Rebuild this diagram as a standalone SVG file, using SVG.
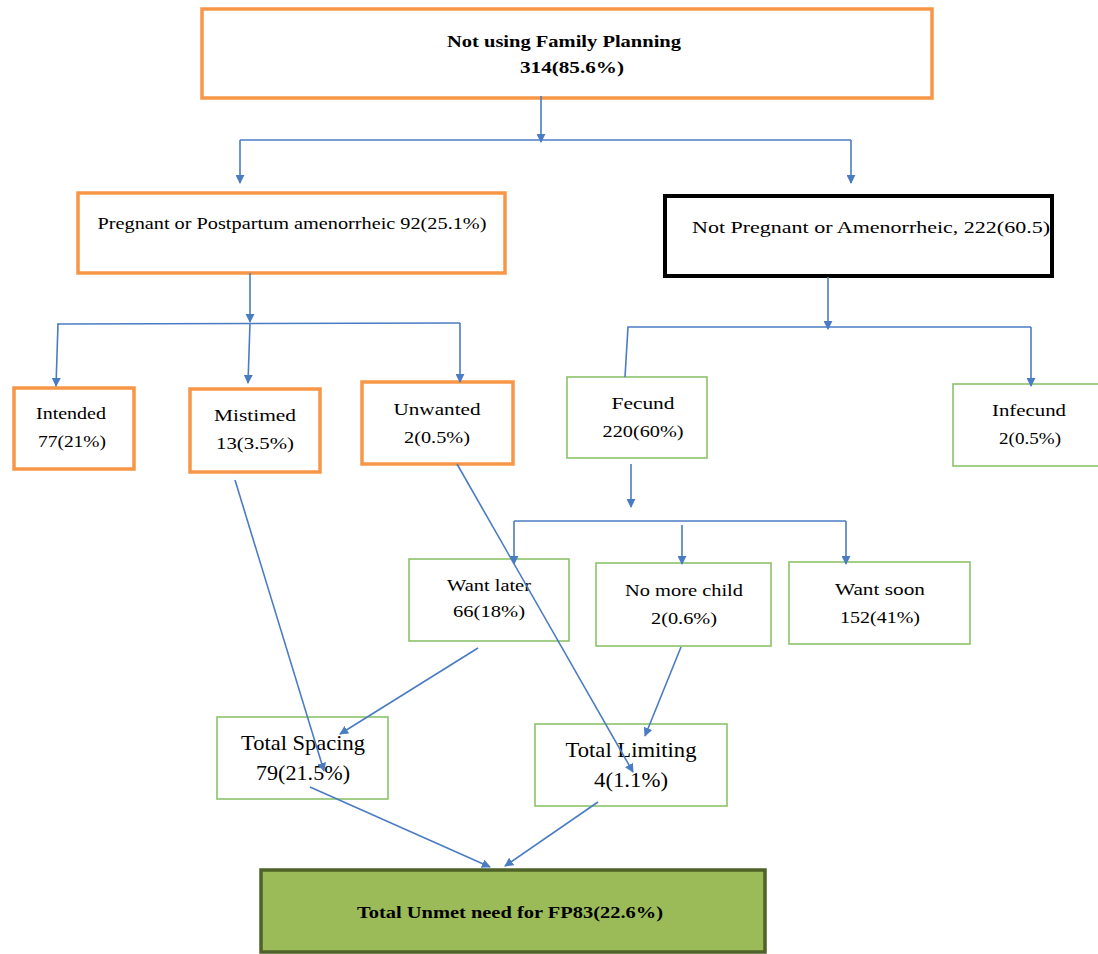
<svg xmlns="http://www.w3.org/2000/svg" width="1098" height="954" viewBox="0 0 1098 954">
<style>
.o{fill:#fff;stroke:#F79646;stroke-width:3.5}
.k{fill:#fff;stroke:#000;stroke-width:4}
.g{fill:#fff;stroke:#8DC26A;stroke-width:1.6}
.u{fill:#9BBB59;stroke:#4F6228;stroke-width:3.5}
.t{font-family:'Liberation Serif','Times New Roman',serif;font-size:17px;fill:#000;text-anchor:middle}
.b{font-weight:bold;font-size:17px}
.l{font-size:21px}
.c line,.c polyline{stroke:#4A7CC4;stroke-width:1.6;fill:none}
</style>
<defs>
<marker id="a" viewBox="0 0 10 10" refX="9" refY="5" markerWidth="9" markerHeight="9" markerUnits="userSpaceOnUse" orient="auto">
<path d="M0,0 L10,5 L0,10 z" fill="#4A7CC4"/>
</marker>
</defs>
<g class="t" font-family="Liberation Serif, Times New Roman, serif">
<g id="top"><rect class="o" x="202" y="9" width="730" height="89"/><text class="b" x="564" y="47" textLength="234" lengthAdjust="spacingAndGlyphs">Not using Family Planning</text><text class="b" x="572" y="73" textLength="104" lengthAdjust="spacingAndGlyphs">314(85.6%)</text></g>
<g id="pregnant"><rect class="o" x="78" y="193" width="427" height="80"/><text x="292" y="229" textLength="389" lengthAdjust="spacingAndGlyphs">Pregnant or Postpartum  amenorrheic 92(25.1%)</text></g>
<g id="notpregnant"><rect class="k" x="665" y="196" width="387" height="80"/><text x="871" y="233" textLength="358" lengthAdjust="spacingAndGlyphs">Not Pregnant or Amenorrheic, 222(60.5)</text></g>
<g id="intended"><rect class="o" x="14" y="388" width="120" height="81"/><text x="71" y="419" textLength="70" lengthAdjust="spacingAndGlyphs">Intended</text><text x="72" y="447" textLength="68" lengthAdjust="spacingAndGlyphs">77(21%)</text></g>
<g id="mistimed"><rect class="o" x="190" y="389" width="130" height="83"/><text x="255" y="421" textLength="82" lengthAdjust="spacingAndGlyphs">Mistimed</text><text x="255" y="449" textLength="78" lengthAdjust="spacingAndGlyphs">13(3.5%)</text></g>
<g id="unwanted"><rect class="o" x="362" y="382" width="151" height="82"/><text x="437" y="415" textLength="87" lengthAdjust="spacingAndGlyphs">Unwanted</text><text x="437" y="443" textLength="66" lengthAdjust="spacingAndGlyphs">2(0.5%)</text></g>
<g id="fecund"><rect class="g" x="567" y="377" width="140" height="81"/><text x="643" y="409" textLength="63" lengthAdjust="spacingAndGlyphs">Fecund</text><text x="643" y="437" textLength="81" lengthAdjust="spacingAndGlyphs">220(60%)</text></g>
<g id="infecund"><rect class="g" x="953" y="384" width="150" height="82"/><text x="1029" y="416" textLength="74" lengthAdjust="spacingAndGlyphs">Infecund</text><text x="1030" y="444" textLength="62" lengthAdjust="spacingAndGlyphs">2(0.5%)</text></g>
<g id="wantlater"><rect class="g" x="409" y="559" width="160" height="82"/><text x="489" y="591" textLength="84" lengthAdjust="spacingAndGlyphs">Want later</text><text x="489" y="617" textLength="72" lengthAdjust="spacingAndGlyphs">66(18%)</text></g>
<g id="nomore"><rect class="g" x="596" y="563" width="175" height="83"/><text x="684" y="596" textLength="118" lengthAdjust="spacingAndGlyphs">No more child</text><text x="684" y="624" textLength="66" lengthAdjust="spacingAndGlyphs">2(0.6%)</text></g>
<g id="wantsoon"><rect class="g" x="789" y="562" width="181" height="82"/><text x="880" y="595" textLength="90" lengthAdjust="spacingAndGlyphs">Want soon</text><text x="880" y="623" textLength="80" lengthAdjust="spacingAndGlyphs">152(41%)</text></g>
<g id="spacing"><rect class="g" x="217" y="717" width="171" height="82"/><text class="l" x="303" y="750" textLength="124" lengthAdjust="spacingAndGlyphs">Total Spacing</text><text class="l" x="303" y="780" textLength="94" lengthAdjust="spacingAndGlyphs">79(21.5%)</text></g>
<g id="limiting"><rect class="g" x="535" y="724" width="192" height="82"/><text class="l" x="631" y="757" textLength="131" lengthAdjust="spacingAndGlyphs">Total Limiting</text><text class="l" x="631" y="787" textLength="74" lengthAdjust="spacingAndGlyphs">4(1.1%)</text></g>
<g id="unmet"><rect class="u" x="261" y="870" width="504" height="82"/><text class="b" x="510" y="918" textLength="306" lengthAdjust="spacingAndGlyphs">Total Unmet need for FP83(22.6%)</text></g>
</g>
<g class="c">
<line x1="541" y1="96" x2="541" y2="142" marker-end="url(#a)"/>
<polyline points="240,140 851,140"/>
<line x1="240" y1="140" x2="240" y2="183" marker-end="url(#a)"/>
<line x1="851" y1="140" x2="851" y2="183" marker-end="url(#a)"/>
<line x1="250" y1="273" x2="250" y2="322" marker-end="url(#a)"/>
<polyline points="57,324 460,323"/>
<line x1="58" y1="324" x2="56" y2="386" marker-end="url(#a)"/>
<line x1="250" y1="323" x2="248" y2="383" marker-end="url(#a)"/>
<line x1="460" y1="323" x2="460" y2="382" marker-end="url(#a)"/>
<line x1="828" y1="277" x2="828" y2="329" marker-end="url(#a)"/>
<polyline points="625,377 628,327 1031,327"/>
<line x1="1031" y1="327" x2="1031" y2="386" marker-end="url(#a)"/>
<line x1="631" y1="464" x2="631" y2="507" marker-end="url(#a)"/>
<polyline points="514,521 846,521"/>
<line x1="514" y1="521" x2="514" y2="564" marker-end="url(#a)"/>
<line x1="682" y1="525" x2="682" y2="564" marker-end="url(#a)"/>
<line x1="846" y1="521" x2="846" y2="564" marker-end="url(#a)"/>
<line x1="235" y1="480" x2="324" y2="771" marker-end="url(#a)"/>
<line x1="457" y1="464" x2="633" y2="772" marker-end="url(#a)"/>
<line x1="478" y1="648" x2="340" y2="734" marker-end="url(#a)"/>
<line x1="681" y1="647" x2="645" y2="736" marker-end="url(#a)"/>
<line x1="310" y1="787" x2="490" y2="867" marker-end="url(#a)"/>
<line x1="598" y1="802" x2="505" y2="866" marker-end="url(#a)"/>
</g>
</svg>
